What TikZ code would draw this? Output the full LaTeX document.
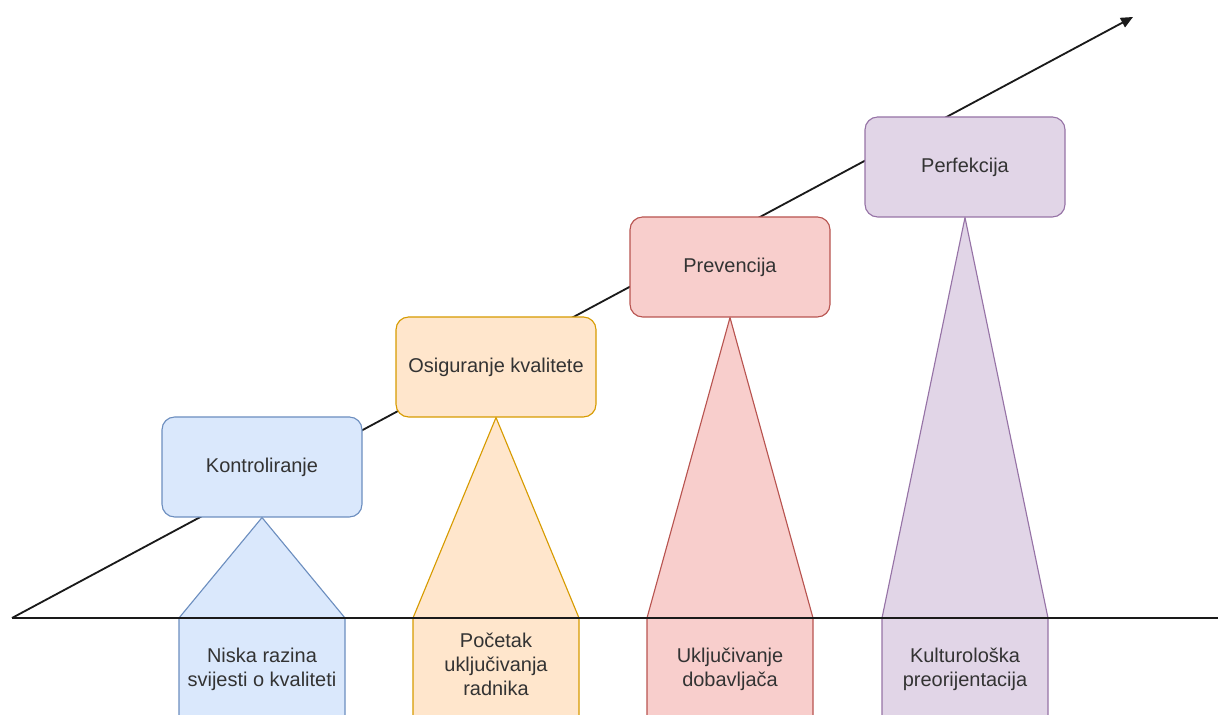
\documentclass[tikz,border=0pt]{standalone}
\usepackage{fontspec}
\setmainfont{Liberation Sans}
\usetikzlibrary{arrows.meta,positioning}
\definecolor{Plava}{HTML}{DAE8FC}
\definecolor{PlavaRub}{HTML}{6C8EBF}
\definecolor{Narancasta}{HTML}{FFE6CC}
\definecolor{NarancastaRub}{HTML}{D79B00}
\definecolor{Crvena}{HTML}{F8CECC}
\definecolor{CrvenaRub}{HTML}{B85450}
\definecolor{Ljubicasta}{HTML}{E1D5E7}
\definecolor{LjubicastaRub}{HTML}{9673A6}
\definecolor{Tekst}{HTML}{333333}
\definecolor{Crta}{HTML}{1A1A1A}

\begin{document}
\begin{tikzpicture}[
  font=\fontsize{14.2}{17.2}\selectfont,
  faza/.style={rectangle,rounded corners=9pt,line width=0.8pt,
    minimum width=5cm,minimum height=2.5cm,text=Tekst},
  opis/.style={align=center,text=Tekst},
  stup/.style={line width=0.8pt,line join=round},
  crta/.style={line width=1.3pt,Crta}
]
  \clip (0,0) rectangle (30.45,17.875);
  % Os napretka: dijagonala ide iza okvira.
  \coordinate (pocetak) at (0.3,2.425);
  \coordinate (vrh) at (28.325,17.45);
  \coordinate (kraj) at (30.45,2.425);
  \draw[crta,-{Triangle[length=3mm,width=2.6mm]}] (pocetak)--(vrh);

  % Faze razvoja kvalitete.
  \node[faza,fill=Plava,draw=PlavaRub] (kontrola) at (6.55,6.2) {Kontroliranje};
  \node[faza,fill=Narancasta,draw=NarancastaRub] (osiguranje) at (12.4,8.7)
    {Osiguranje kvalitete};
  \node[faza,fill=Crvena,draw=CrvenaRub] (prevencija) at (18.25,11.2) {Prevencija};
  \node[faza,fill=Ljubicasta,draw=LjubicastaRub] (perfekcija) at (24.125,13.7)
    {Perfekcija};

  % Stupovi ispod faza: trokut do osi, pravokutnik ispod nje.
  \filldraw[stup,fill=Plava,draw=PlavaRub] (kontrola.south)--(4.475,2.425)
    --(4.475,-1)--(8.625,-1)--(8.625,2.425)--cycle;
  \filldraw[stup,fill=Narancasta,draw=NarancastaRub] (osiguranje.south)--(10.325,2.425)
    --(10.325,-1)--(14.475,-1)--(14.475,2.425)--cycle;
  \filldraw[stup,fill=Crvena,draw=CrvenaRub] (prevencija.south)--(16.175,2.425)
    --(16.175,-1)--(20.325,-1)--(20.325,2.425)--cycle;
  \filldraw[stup,fill=Ljubicasta,draw=LjubicastaRub] (perfekcija.south)--(22.05,2.425)
    --(22.05,-1)--(26.2,-1)--(26.2,2.425)--cycle;

  % Vremenska os preko stupova.
  \draw[crta] (pocetak)--(kraj);

  \node[opis] (svijest) at (6.55,1.15) {Niska razina\\svijesti o kvaliteti};
  \node[opis] (radnici) at (12.4,1.27) {Početak\\uključivanja\\radnika};
  \node[opis] (dobavljaci) at (18.25,1.15) {Uključivanje\\dobavljača};
  \node[opis] (kultura) at (24.125,1.15) {Kulturološka\\preorijentacija};
\end{tikzpicture}
\end{document}
